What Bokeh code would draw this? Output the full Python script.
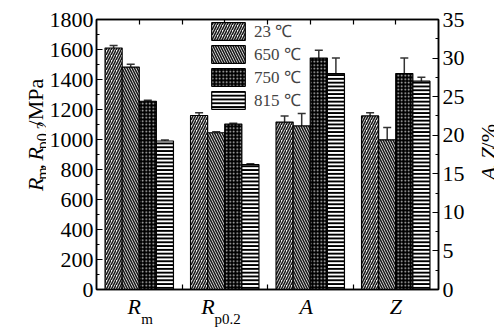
import math
from bokeh.plotting import figure
from bokeh.layouts import row
from bokeh.models import (ColumnDataSource, Range1d, LinearAxis, FixedTicker, Label,
                          SingleIntervalTicker, Whisker, TeeHead, Legend, LegendItem)
from bokeh.embed import file_html
from bokeh.resources import INLINE

# ---------------- data ----------------
categories = ["Rm", "Rp0.2", "A", "Z"]
temperatures = ["23 ℃", "650 ℃", "750 ℃", "815 ℃"]

# strength, MPa (one value per temperature)
Rm = [1610, 1483, 1255, 990]
Rm_err = [17, 18, 6, 6]
Rp02 = [1160, 1045, 1103, 832]
Rp02_err = [18, 6, 6, 6]
# plasticity, %
A = [21.7, 21.2, 30.0, 28.0]
A_err = [0.8, 1.6, 1.0, 2.0]
Z = [22.5, 19.4, 28.0, 27.0]
Z_err = [0.4, 1.6, 2.0, 0.5]

left_max, left_step = 1800, 200
right_max, right_step = 35, 5

# ---------------- layout constants ----------------
FONT = "Liberation Serif"
H = 329
LW, RW = 46, 26            # side strips holding the rotated axis titles
MW = 494 - LW - RW         # main figure width
FW = 344                   # frame width
BIG, SMALL = 22, 16
ncat = len(categories)

p = figure(x_range=Range1d(0, ncat), y_range=Range1d(0, left_max),
           width=MW, height=H, output_backend="svg",
           toolbar_location=None, x_axis_location=None,
           min_border_left=48, min_border_right=MW - 48 - FW, min_border_top=19,
           min_border_bottom=34)
p.extra_y_ranges = {"pct": Range1d(0, right_max)}
p.extra_x_ranges = {"lx": Range1d(0, FW)}
p.xgrid.visible = False
p.ygrid.visible = False
p.outline_line_color = "black"
p.outline_line_width = 1.5
p.background_fill_color = "white"
p.border_fill_color = "white"


def style_axis(ax, size=BIG, italic=False):
    ax.axis_line_width = 1.5
    ax.axis_line_color = "black"
    ax.major_tick_in = 6
    ax.major_tick_out = 0
    ax.minor_tick_in = 3
    ax.minor_tick_out = 0
    ax.major_tick_line_width = 1.2
    ax.minor_tick_line_width = 1.2
    ax.major_label_text_font = FONT
    ax.major_label_text_font_size = f"{size}px"
    ax.major_label_text_font_style = "italic" if italic else "normal"
    ax.major_label_text_color = "black"


# numeric axes
yl = p.yaxis[0]
yl.ticker = SingleIntervalTicker(interval=left_step, num_minor_ticks=2)
style_axis(yl)
yl.major_label_standoff = 3

yr = LinearAxis(y_range_name="pct",
                ticker=SingleIntervalTicker(interval=right_step, num_minor_ticks=2))
style_axis(yr)
yr.major_label_standoff = 4
p.add_layout(yr, "right")

# category tick marks (centres and boundaries), in frame pixels
cw = FW / ncat
centres = [round(cw * (k + 0.5)) for k in range(ncat)]
bounds = [round(cw * k) for k in range(1, ncat)]

# ---------------- category labels (italic letter + subscript) ----------------
main_txt = ["R", "R", "A", "Z"]
main_dx = [-5, -17, -4, 0]
sub_txt = ["m", "p0.2"]
sub_dx = [8, 3]

main_pos = [c + d for c, d in zip(centres, main_dx)]
sub_pos = [centres[k] + sub_dx[k] for k in range(len(sub_txt))]

xb = LinearAxis(x_range_name="lx",
                ticker=FixedTicker(ticks=main_pos, minor_ticks=bounds),
                major_label_overrides={v: t for v, t in zip(main_pos, main_txt)})
style_axis(xb, BIG, italic=True)
xb.major_tick_line_color = None
xb.minor_tick_in = 5
xb.major_label_standoff = 4
p.add_layout(xb, "below")

xs_ax = LinearAxis(x_range_name="lx", ticker=FixedTicker(ticks=sub_pos),
                   major_label_overrides={v: t for v, t in zip(sub_pos, sub_txt)})
style_axis(xs_ax, 15)
xs_ax.axis_line_color = None
xs_ax.major_tick_line_color = None
xs_ax.minor_tick_line_color = None
xs_ax.major_label_standoff = -11
p.add_layout(xs_ax, "below")

xt = LinearAxis(x_range_name="lx",
                ticker=FixedTicker(ticks=[], minor_ticks=sorted(centres + bounds)))
style_axis(xt)
xt.minor_tick_in = 5
xt.major_label_standoff = 0
p.add_layout(xt, "above")

# ---------------- bars ----------------
offsets = [-0.3, -0.1, 0.1, 0.3]
styles = [
    dict(fill_color="#f4f4f4", hatch_pattern="right_diagonal_line", hatch_color="#1a1a1a",
         hatch_scale=5, hatch_weight=1.6),
    dict(fill_color="#f4f4f4", hatch_pattern="left_diagonal_line", hatch_color="#1a1a1a",
         hatch_scale=5, hatch_weight=1.6),
    dict(fill_color="black", hatch_pattern="dot", hatch_color="#cccccc",
         hatch_scale=3.5, hatch_weight=1.2),
    dict(fill_color="white", hatch_pattern="horizontal_line", hatch_color="black",
         hatch_scale=3.8, hatch_weight=2.0),
]

idx = {c: k + 0.5 for k, c in enumerate(categories)}
items = []
for i, t in enumerate(temperatures):
    s_x = [idx["Rm"] + offsets[i], idx["Rp0.2"] + offsets[i]]
    p_x = [idx["A"] + offsets[i], idx["Z"] + offsets[i]]
    s_src = ColumnDataSource(dict(
        x=s_x, val=[Rm[i], Rp02[i]],
        upper=[Rm[i] + Rm_err[i], Rp02[i] + Rp02_err[i]],
        lower=[Rm[i] - Rm_err[i], Rp02[i] - Rp02_err[i]]))
    p_src = ColumnDataSource(dict(
        x=p_x, val=[A[i], Z[i]],
        upper=[A[i] + A_err[i], Z[i] + Z_err[i]],
        lower=[A[i] - A_err[i], Z[i] - Z_err[i]]))
    r1 = p.vbar(x="x", top="val", width=0.2, source=s_src,
                line_color="black", line_width=1.2, **styles[i])
    p.vbar(x="x", top="val", width=0.2, source=p_src, y_range_name="pct",
           line_color="black", line_width=1.2, **styles[i])
    items.append(LegendItem(label=t, renderers=[r1]))
    for src, rng in ((s_src, "default"), (p_src, "pct")):
        w = Whisker(source=src, base="x", upper="upper", lower="lower",
                    dimension="height", line_color="#333333", line_width=1.5,
                    upper_head=TeeHead(size=8, line_color="#333333", line_width=1.5),
                    lower_head=TeeHead(size=8, line_color="#333333", line_width=1.5))
        if rng == "pct":
            w.y_range_name = "pct"
        p.add_layout(w)

legend = Legend(items=items, location=(111, 178), orientation="vertical",
                glyph_width=42, glyph_height=22, spacing=0, padding=0, margin=0,
                label_standoff=5, label_text_font=FONT, label_text_font_size="17px",
                label_height=22, border_line_alpha=0, background_fill_alpha=0)
p.add_layout(legend, "center")


# ---------------- rotated axis titles in narrow side strips ----------------
def strip(w):
    f = figure(width=w, height=H, x_range=Range1d(0, w), y_range=Range1d(0, H),
               output_backend="svg", toolbar_location=None,
               x_axis_location=None, y_axis_location=None,
               min_border=0, min_border_left=0, min_border_right=0,
               min_border_top=0, min_border_bottom=0)
    f.xgrid.visible = False
    f.ygrid.visible = False
    f.outline_line_color = None
    f.background_fill_color = "white"
    f.border_fill_color = "white"
    return f


UP = math.pi / 2


def rich_vertical(f, x_base, y_start, pieces):
    """pieces: (text, size, italic, baseline shift, advance)"""
    y = y_start
    for text, size, italic, dx, adv in pieces:
        f.add_layout(Label(x=x_base + dx, y=y, text=text, angle=UP,
                           text_font=FONT, text_font_size=f"{size}px",
                           text_font_style="italic" if italic else "normal",
                           text_color="black", text_align="left",
                           text_baseline="alphabetic"))
        y += adv


left = strip(LW)
rich_vertical(left, 35, H - 209, [
    ("R", BIG, True, 0, 0.62 * BIG),
    ("m", SMALL, False, 7, 0.78 * SMALL),
    (",", BIG, False, 0, 0.5 * BIG),
    ("R", BIG, True, 0, 0.62 * BIG),
    ("p0.2", SMALL, False, 7, 1.75 * SMALL),
    ("/MPa", BIG, False, 0, 0),
])

right = strip(RW)
rich_vertical(right, 20, H - 196, [
    ("A", BIG, True, 0, 0.62 * BIG),
    (",", BIG, False, 0, 0.55 * BIG),
    ("Z", BIG, True, 0, 0.6 * BIG),
    ("/%", BIG, False, 0, 0),
])

layout = row(left, p, right, spacing=0)
open("out.html", "w").write(file_html(layout, INLINE))
